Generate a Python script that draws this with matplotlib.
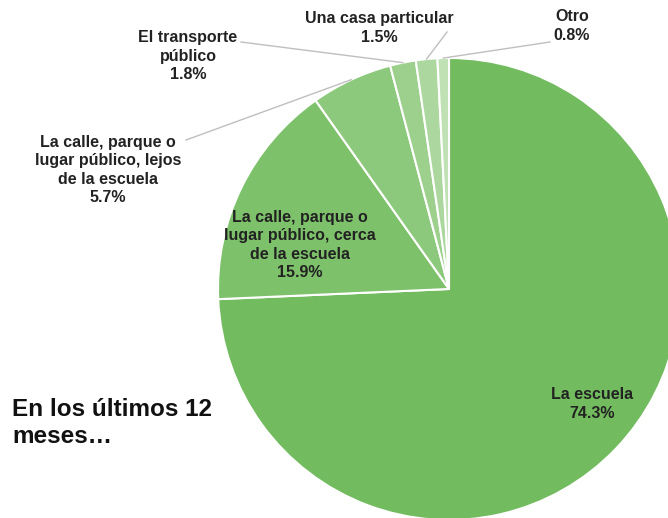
import numpy as np
import matplotlib
matplotlib.use("Agg")
import matplotlib.pyplot as plt

# data (percent)
labels = ["La escuela",
          "La calle, parque o\nlugar público, cerca\nde la escuela",
          "La calle, parque o\nlugar público, lejos\nde la escuela",
          "El transporte\npúblico",
          "Una casa particular",
          "Otro"]
values = [74.3, 15.9, 5.7, 1.8, 1.5, 0.8]
colors = ["#72bb5f", "#7ec16b", "#8dc97c", "#9dd08d", "#acd89f", "#bfe1b4"]

# label placement (pixels from top-left) and leader-line starts
label_pos = [(592, 404), (300, 245), (108, 170), (188, 56), (379, 28), (572, 26)]
line_start = [None, None, (186, 140), (241, 42), (447, 32), (550, 42)]

W, H = 668, 518
cx, cy, r = 449, 289, 231

fig = plt.figure(figsize=(6.68, 5.18), dpi=100)
ax = fig.add_axes([0, 0, 1, 1])

wedges, _ = ax.pie(values, colors=colors, startangle=90, counterclock=False,
                   center=(cx, H - cy), radius=r, frame=True,
                   wedgeprops=dict(edgecolor="white", linewidth=1.5))
ax.set_xlim(0, W)
ax.set_ylim(0, H)
ax.set_aspect("equal")
ax.axis("off")

for i, w in enumerate(wedges):
    txt = labels[i] + "\n" + f"{values[i]:.1f}%"
    lx, ly = label_pos[i]
    ax.text(lx, H - ly, txt, ha="center", va="center", fontsize=11.5,
            fontweight="bold", family="Liberation Sans", color="#222222",
            linespacing=1.3)
    if line_start[i] is not None:
        mid = np.deg2rad((w.theta1 + w.theta2) / 2)
        ex = cx + r * np.cos(mid)
        ey = (H - cy) + r * np.sin(mid)
        sx, sy = line_start[i]
        ax.plot([sx, ex], [H - sy, ey], color="#bfbfbf", linewidth=1)

ax.text(12, H - 423, "En los últimos 12\nmeses…", ha="left", va="center",
        fontsize=17.5, fontweight="bold", family="Liberation Sans",
        color="#111111", linespacing=1.2)

fig.savefig("out.png", dpi=100)
